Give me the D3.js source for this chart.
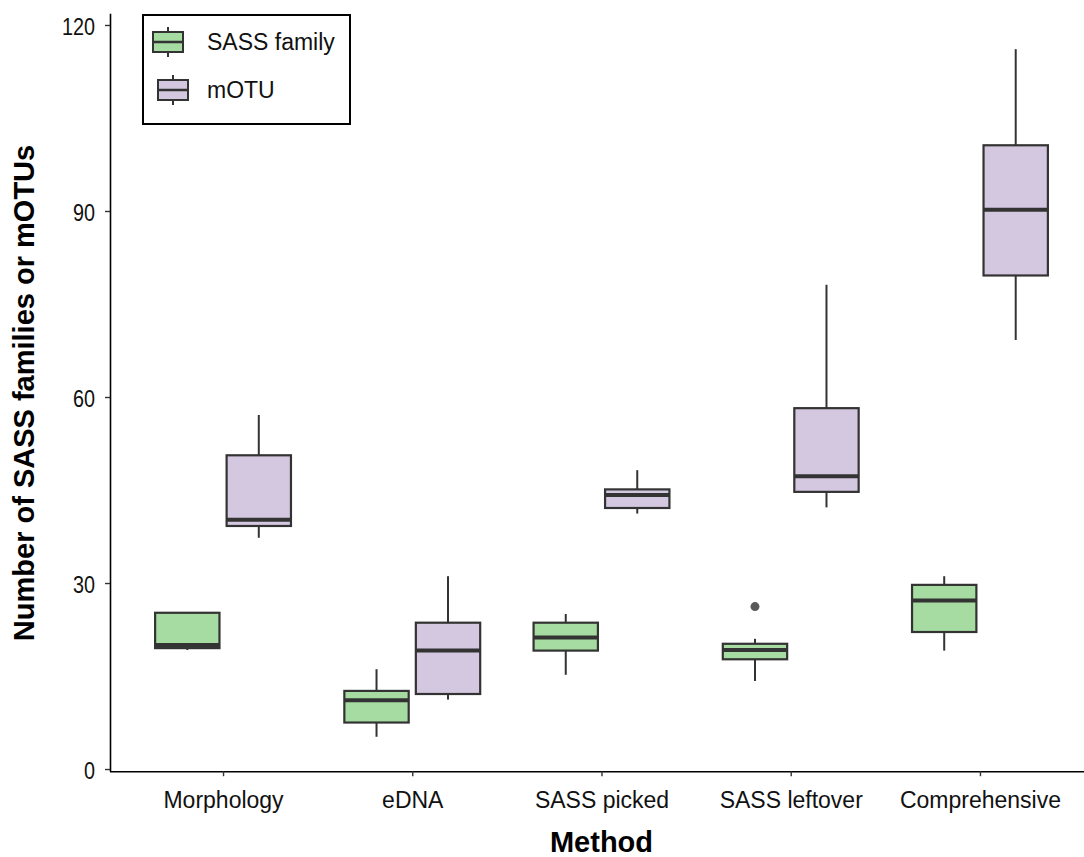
<!DOCTYPE html>
<html>
<head>
<meta charset="utf-8">
<script src="https://cdn.jsdelivr.net/npm/d3@7"></script>
<style>
  html, body { margin: 0; padding: 0; background: #ffffff; }
  svg { display: block; font-family: "Liberation Sans", Arial, Helvetica, sans-serif; }
</style>
</head>
<body>
<svg id="chart" width="1084" height="857"></svg>
<script>
// Methods along the x axis and the two measured groups
const methods = ["Morphology", "eDNA", "SASS picked", "SASS leftover", "Comprehensive"];
const groups = ["SASS family", "mOTU"];

// SASS family counts: five-number summaries per method
const familyLow    = [19.2, 5.2, 15.2, 14.2, 19.1];
const familyQ1     = [19.5, 7.5, 19.1, 17.7, 22.1];
const familyMedian = [20.0, 11.1, 21.2, 19.2, 27.2];
const familyQ3     = [25.2, 12.6, 23.6, 20.2, 29.7];
const familyHigh   = [25.2, 16.1, 25.0, 21.0, 31.1];
const familyOutliers = [[], [], [], [26.2], []];

// mOTU counts: five-number summaries per method
const motuLow    = [37.3, 11.2, 41.2, 42.2, 69.2];
const motuQ1     = [39.2, 12.1, 42.1, 44.7, 79.6];
const motuMedian = [40.2, 19.1, 44.2, 47.2, 90.2];
const motuQ3     = [50.6, 23.6, 45.1, 58.2, 100.6];
const motuHigh   = [57.1, 31.1, 48.2, 78.1, 116.1];
const motuOutliers = [[], [], [], [], []];

const yTicks = [0, 30, 60, 90, 120];

const fills = { "SASS family": "#a6dba1", "mOTU": "#d4c7e0" };
const stroke = "#333333";

// Build box records for both groups
const boxes = [];
methods.forEach((m, i) => {
  boxes.push({ method: m, group: "SASS family", low: familyLow[i], q1: familyQ1[i], median: familyMedian[i], q3: familyQ3[i], high: familyHigh[i], outliers: familyOutliers[i] });
  boxes.push({ method: m, group: "mOTU", low: motuLow[i], q1: motuQ1[i], median: motuMedian[i], q3: motuQ3[i], high: motuHigh[i], outliers: motuOutliers[i] });
});

const svg = d3.select("#chart");

const x = d3.scalePoint().domain(methods).range([109.5, 1093.5]).padding(0.6);
const xSub = d3.scaleBand().domain(groups).range([-71.5, 71.5]).paddingInner(0.1).paddingOuter(0.05);
const y = d3.scaleLinear().domain([-0.35, 121.9]).range([771.2, 13.2]);

// Boxes
const g = svg.append("g");
const box = g.selectAll("g.box").data(boxes).join("g")
  .attr("class", "box")
  .attr("transform", d => `translate(${x(d.method) + xSub(d.group)},0)`);

const bw = xSub.bandwidth();

box.append("line")
  .attr("x1", bw / 2).attr("x2", bw / 2)
  .attr("y1", d => y(d.high)).attr("y2", d => y(d.q3))
  .attr("stroke", stroke).attr("stroke-width", 2);
box.append("line")
  .attr("x1", bw / 2).attr("x2", bw / 2)
  .attr("y1", d => y(d.q1)).attr("y2", d => y(d.low))
  .attr("stroke", stroke).attr("stroke-width", 2);
box.append("rect")
  .attr("x", 0).attr("width", bw)
  .attr("y", d => y(d.q3)).attr("height", d => y(d.q1) - y(d.q3))
  .attr("fill", d => fills[d.group])
  .attr("stroke", stroke).attr("stroke-width", 2.2);
box.append("line")
  .attr("x1", 0).attr("x2", bw)
  .attr("y1", d => y(d.median)).attr("y2", d => y(d.median))
  .attr("stroke", stroke).attr("stroke-width", 4);
box.selectAll("circle").data(d => d.outliers).join("circle")
  .attr("cx", bw / 2).attr("cy", v => y(v)).attr("r", 4.5)
  .attr("fill", "#595959");

// Axes
const yAxis = svg.append("g")
  .attr("transform", "translate(110,0)")
  .call(d3.axisLeft(y).tickValues(yTicks).tickSize(5).tickSizeOuter(0).tickPadding(8));
const xAxis = svg.append("g")
  .attr("transform", "translate(0,771.2)")
  .call(d3.axisBottom(x).tickSize(5).tickSizeOuter(0));

[yAxis, xAxis].forEach(a => {
  a.select(".domain").attr("stroke", "#000").attr("stroke-width", 1.6);
  a.selectAll(".tick line").attr("stroke", "#333").attr("stroke-width", 1.4);
  a.selectAll(".tick text").attr("fill", "#111").style("font-size", "23px");
});
// narrow digits on the value axis
const digitSqueeze = 0.86;
yAxis.selectAll(".tick text")
  .attr("transform", `scale(${digitSqueeze},1)`)
  .attr("x", -15 / digitSqueeze)
  .attr("dy", "0.4em");
xAxis.selectAll(".tick text").attr("y", 37).attr("dy", null);

// Axis titles
svg.append("text")
  .attr("transform", "translate(34,393) rotate(-90)")
  .attr("text-anchor", "middle")
  .style("font-size", "29px").style("font-weight", "bold").attr("fill", "#000")
  .text("Number of SASS families or mOTUs");
svg.append("text")
  .attr("x", 601.5).attr("y", 852)
  .attr("text-anchor", "middle")
  .style("font-size", "29px").style("font-weight", "bold").attr("fill", "#000")
  .text("Method");

// Legend
const legend = svg.append("g");
legend.append("rect")
  .attr("x", 143).attr("y", 15).attr("width", 207).attr("height", 109)
  .attr("fill", "#fff").attr("stroke", "#000").attr("stroke-width", 2);

const keys = [
  { group: "SASS family", kx: 153, cy: 42, textY: 50 },
  { group: "mOTU", kx: 158, cy: 90, textY: 98 }
];
const key = legend.selectAll("g.key").data(keys).join("g").attr("class", "key");
key.append("line")
  .attr("x1", d => d.kx + 15).attr("x2", d => d.kx + 15)
  .attr("y1", d => d.cy - 15).attr("y2", d => d.cy + 15)
  .attr("stroke", stroke).attr("stroke-width", 2);
key.append("rect")
  .attr("x", d => d.kx).attr("y", d => d.cy - 10)
  .attr("width", 30).attr("height", 20)
  .attr("fill", d => fills[d.group]).attr("stroke", stroke).attr("stroke-width", 2);
key.append("line")
  .attr("x1", d => d.kx).attr("x2", d => d.kx + 30)
  .attr("y1", d => d.cy).attr("y2", d => d.cy)
  .attr("stroke", stroke).attr("stroke-width", 2.5);
key.append("text")
  .attr("x", 207).attr("y", d => d.textY)
  .style("font-size", "23px").attr("fill", "#111")
  .text(d => d.group);
</script>
</body>
</html>
